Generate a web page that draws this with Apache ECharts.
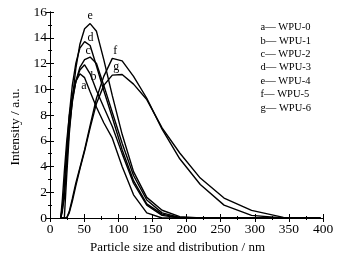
<!DOCTYPE html>
<html>
<head>
<meta charset="utf-8">
<script src="https://cdn.jsdelivr.net/npm/echarts@6/dist/echarts.min.js"></script>
<style>
  html, body { margin: 0; padding: 0; background: #fff; }
  #chart { width: 346px; height: 263px; }
</style>
</head>
<body>
<div id="chart"></div>
<script>
// particle size bins (nm)
const sizes = [15.7, 18.2, 21.0, 24.4, 28.2, 32.7, 37.8, 43.8, 50.7, 58.8, 68.1, 78.8, 91.3, 105.7, 122.4, 141.8, 164.2, 190.1, 220.2, 255.0, 295.3, 342.0, 396.1]

const wpu0 = [0, 1.5, 3.6, 5.9, 7.9, 9.5, 10.6, 11.2, 10.9, 9.8, 8.6, 7.4, 6.2, 4.0, 1.8, 0.4, 0, 0, 0, 0, 0, 0, 0]
const wpu1 = [0, 0.5, 2.5, 5.0, 7.3, 9.2, 10.6, 11.5, 11.9, 11.2, 9.9, 8.6, 7.1, 5.0, 2.7, 1.0, 0.2, 0, 0, 0, 0, 0, 0]
const wpu2 = [0, 0, 1.5, 4.2, 6.9, 9.0, 10.6, 11.7, 12.3, 12.5, 12.0, 10.3, 8.2, 5.8, 3.3, 1.4, 0.4, 0.05, 0, 0, 0, 0, 0]
const wpu3 = [0, 0, 2.0, 5.2, 8.0, 10.3, 12.0, 13.2, 13.7, 13.4, 11.8, 9.9, 7.8, 5.3, 2.9, 1.1, 0.3, 0, 0, 0, 0, 0, 0]
const wpu4 = [0, 0, 0, 3.2, 6.5, 9.2, 11.6, 13.5, 14.7, 15.1, 14.5, 12.3, 9.5, 6.5, 3.6, 1.6, 0.6, 0.1, 0, 0, 0, 0, 0]
const wpu5 = [0, 0, 0, 0, 0.5, 1.5, 2.7, 3.9, 5.3, 7.2, 9.3, 11.0, 12.4, 12.2, 11.0, 9.3, 6.9, 4.6, 2.6, 1.0, 0.2, 0, 0]
const wpu6 = [0, 0, 0, 0, 0.4, 1.3, 2.5, 3.8, 5.2, 7.0, 8.9, 10.3, 11.1, 11.15, 10.4, 9.2, 7.0, 5.05, 3.1, 1.55, 0.59, 0.05, 0]

const names = ['WPU-0', 'WPU-1', 'WPU-2', 'WPU-3', 'WPU-4', 'WPU-5', 'WPU-6']
const letters = ['a', 'b', 'c', 'd', 'e', 'f', 'g']
const xTicks = [0, 50, 100, 150, 200, 250, 300, 350, 400]
const yTicks = [0, 2, 4, 6, 8, 10, 12, 14, 16]

const allValues = [wpu0, wpu1, wpu2, wpu3, wpu4, wpu5, wpu6]
// offset of each peak letter from its peak point
const labelOffsets = [[4, 12], [9, 12], [-2, -6], [6, -4], [0, -8], [3, -8], [-6, -8]]

const font = "'Liberation Serif', 'Times New Roman', serif"

const chart = echarts.init(document.getElementById('chart'))

const tickStyle = {
  axisLine: { show: true, lineStyle: { color: '#000', width: 1 } },
  axisTick: { show: true, inside: true, length: 4, lineStyle: { color: '#000' } },
  minorTick: { show: true, splitNumber: 2, length: 2, lineStyle: { color: '#000' } },
  splitLine: { show: false }
}

chart.setOption({
  animation: false,
  textStyle: { fontFamily: font, color: '#000' },
  grid: { left: 50, right: 23, top: 12, bottom: 45 },
  legend: {
    right: 30,
    top: 17,
    orient: 'vertical',
    icon: 'none',
    itemWidth: 0,
    itemHeight: 10,
    itemGap: 2.4,
    data: names,
    formatter: name => letters[names.indexOf(name)] + '\u2014 ' + name,
    textStyle: { fontFamily: font, fontSize: 10.5, color: '#000' }
  },
  xAxis: [
    {
      type: 'value', min: 0, max: 400, interval: 50,
      name: 'Particle size and distribution / nm',
      nameLocation: 'middle', nameGap: 23,
      nameTextStyle: { fontFamily: font, fontSize: 13, color: '#000', padding: [0, 18, 0, 0] },
      axisLabel: { margin: 4, fontSize: 13.5, color: '#000', fontFamily: font,
        formatter: v => xTicks.includes(v) ? String(v) : '' },
      ...tickStyle
    },
    {
      type: 'value', min: 0, max: 400, interval: 50, position: 'top',
      axisLabel: { show: false },
      ...tickStyle
    }
  ],
  yAxis: [
    {
      type: 'value', min: 0, max: 16, interval: 2,
      name: 'Intensity / a.u.',
      nameLocation: 'middle', nameGap: 26,
      nameTextStyle: { fontFamily: font, fontSize: 13.5, color: '#000', padding: [0, 24, 0, 0] },
      axisLabel: { margin: 3, fontSize: 13.5, color: '#000', fontFamily: font,
        formatter: v => yTicks.includes(v) ? String(v) : '' },
      ...tickStyle
    },
    {
      type: 'value', min: 0, max: 16, interval: 2, position: 'right',
      axisLabel: { show: false },
      ...tickStyle
    }
  ],
  series: allValues.map((vals, i) => ({
    name: names[i],
    type: 'line',
    data: sizes.map((s, j) => [s, vals[j]]),
    symbol: 'none',
    smooth: false,
    lineStyle: { color: '#000', width: 1.4 },
    itemStyle: { color: '#000' },
    markPoint: {
      symbol: 'circle',
      symbolSize: 0,
      data: [{ type: 'max' }],
      label: {
        show: true,
        position: 'inside',
        offset: labelOffsets[i],
        formatter: letters[i],
        fontFamily: font,
        fontSize: 12,
        color: '#000'
      }
    }
  }))
})
</script>
</body>
</html>
